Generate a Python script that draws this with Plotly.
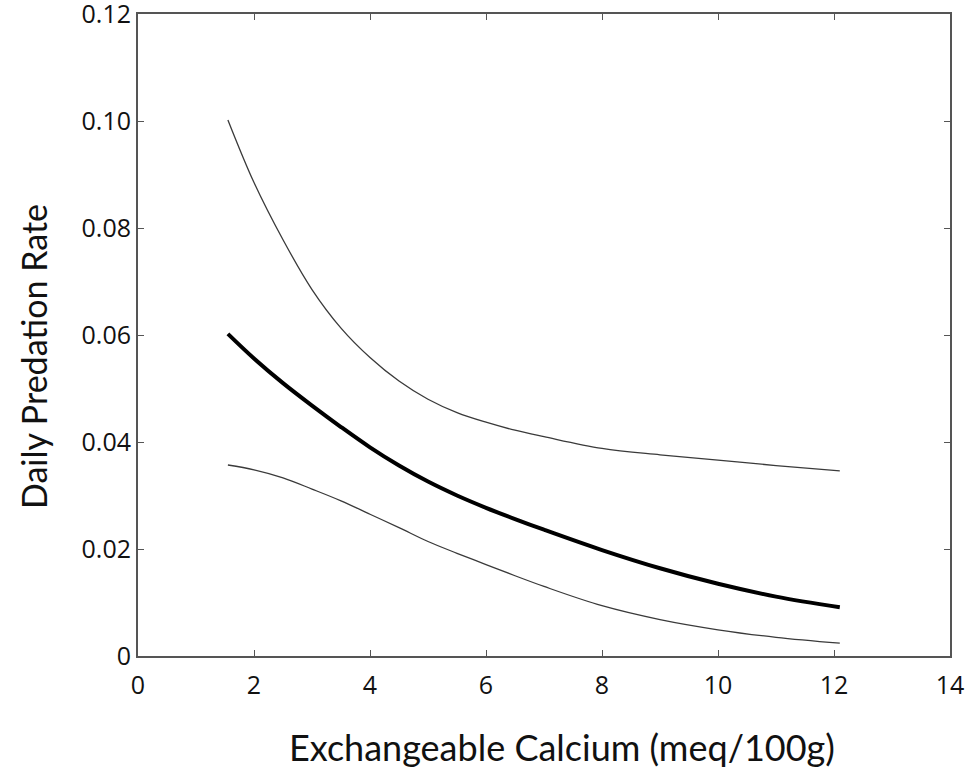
import plotly.graph_objects as go

calcium = [1.55, 2, 2.5, 3, 3.5, 4, 4.5, 5, 5.5, 6, 6.5, 7, 8, 9, 10, 11, 12.1]
rate_mean = [0.0602, 0.0556, 0.0510, 0.0468, 0.0428, 0.0390, 0.0356, 0.0326, 0.0300, 0.0277,
             0.0256, 0.0236, 0.0198, 0.0164, 0.0135, 0.0111, 0.0091]
rate_upper = [0.1002, 0.0885, 0.0778, 0.0685, 0.0613, 0.0558, 0.0514, 0.0480, 0.0455, 0.0437,
              0.0422, 0.0410, 0.0388, 0.0376, 0.0366, 0.0356, 0.0346]
rate_lower = [0.0357, 0.0348, 0.0333, 0.0312, 0.0290, 0.0265, 0.0240, 0.0214, 0.0192, 0.0171,
              0.0150, 0.0130, 0.0094, 0.0068, 0.0049, 0.0035, 0.0024]

x_ticks = [0, 2, 4, 6, 8, 10, 12, 14]
y_ticks = [0, 0.02, 0.04, 0.06, 0.08, 0.10, 0.12]
y_tick_labels = ["0", "0.02", "0.04", "0.06", "0.08", "0.10", "0.12"]

fig = go.Figure()
for ys, w, c in [(rate_upper, 1.3, "#3a3a3a"), (rate_lower, 1.3, "#3a3a3a"), (rate_mean, 4, "#000000")]:
    fig.add_trace(go.Scatter(x=calcium, y=ys, mode="lines",
                             line=dict(color=c, width=w, shape="spline", smoothing=1.0),
                             showlegend=False))

axis_common = dict(showline=True, linecolor="#555555", linewidth=2, mirror="ticks",
                   ticks="inside", ticklen=6, tickwidth=1, tickcolor="#555555",
                   showgrid=False, zeroline=False, automargin=False,
                   ticklabeloverflow="allow",
                   tickfont=dict(family="Open Sans", size=25, color="#111111"))

fig.update_xaxes(range=[0, 14], tickvals=x_ticks, ticklabelstandoff=6, **axis_common)
fig.update_yaxes(range=[0, 0.12], tickvals=y_ticks, ticktext=y_tick_labels, **axis_common)

fig.add_annotation(text="Exchangeable Calcium (meq/100g)", xref="paper", yref="paper",
                   x=0.522, y=-0.1417, xanchor="center", yanchor="middle", showarrow=False,
                   font=dict(family="Lato", size=36, color="#111111"))
fig.add_annotation(text="Daily Predation Rate", xref="paper", yref="paper",
                   x=-0.1293, y=0.4657, xanchor="center", yanchor="middle", showarrow=False,
                   textangle=-90, font=dict(family="Lato", size=34, color="#111111"))

fig.update_layout(width=971, height=771, plot_bgcolor="white", paper_bgcolor="white",
                  margin=dict(l=138, r=21, t=14, b=115))

fig.write_html("out.html", config={"displayModeBar": False},
               post_script="document.body.style.margin='0px';document.body.style.overflow='hidden';")
